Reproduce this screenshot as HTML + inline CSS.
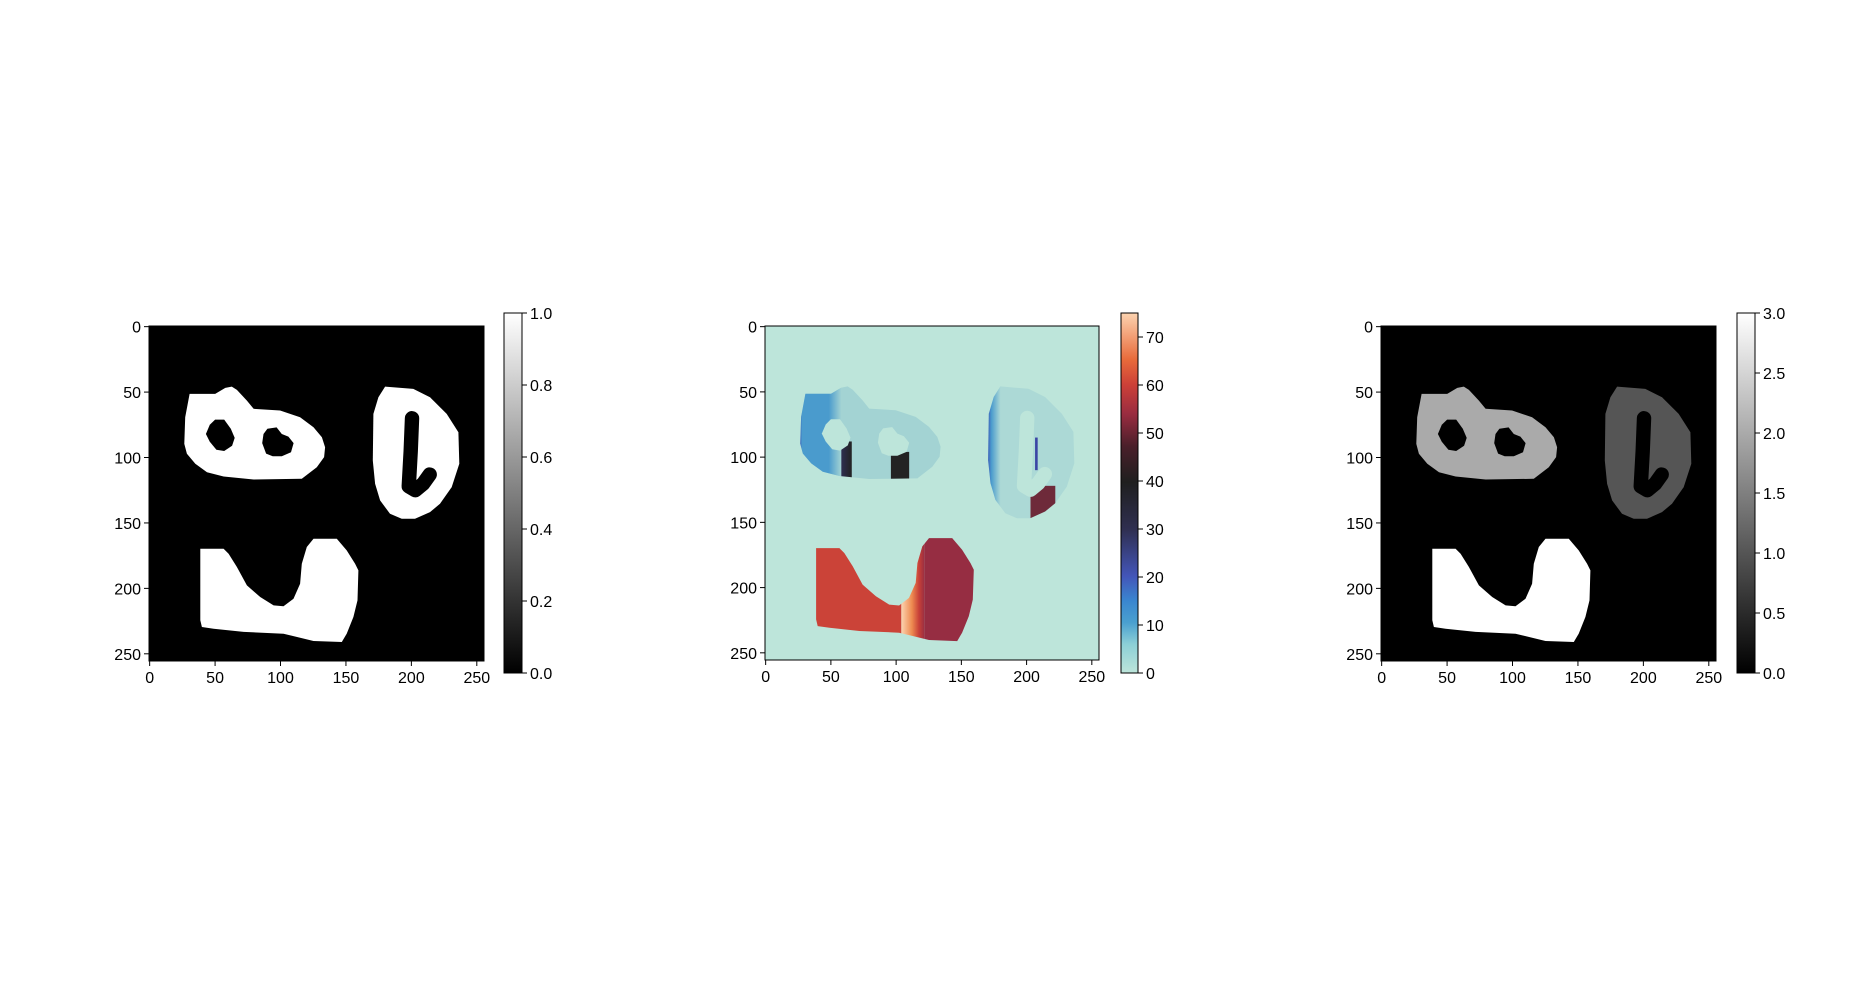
<!DOCTYPE html>
<html><head><meta charset="utf-8"><style>
html,body{margin:0;padding:0;background:#fff;}
svg{display:block;font-family:"Liberation Sans","DejaVu Sans",sans-serif;}
</style></head><body>
<svg id="fig" width="1853" height="986" viewBox="0 0 1853 986" xmlns="http://www.w3.org/2000/svg"></svg>
<script>
// ---- data ----
const axisTicks = [0, 50, 100, 150, 200, 250];
const imageSize = 256;
const cbTicks1 = [0.0, 0.2, 0.4, 0.6, 0.8, 1.0];
const cbMax1 = 1.0;
const cbTicks2 = [0, 10, 20, 30, 40, 50, 60, 70];
const cbMax2 = 75;
const cbTicks3 = [0.0, 0.5, 1.0, 1.5, 2.0, 2.5, 3.0];
const cbMax3 = 3.0;
// region outlines (image coordinates: col,row)
const regionA = [[30.5,51.4],[50.1,51.4],[57.8,46.8],[62.8,45.8],[66.7,48.3],[74.3,56.5],[79.4,62.8],[99.7,64.1],[115,69.2],[125.2,76.8],[131.6,84.5],[134.1,92.1],[133.3,99.7],[127.7,107.4],[116.3,116.3],[79.4,116.8],[56.5,114.5],[43.8,111.2],[34.9,104.8],[28.5,97.2],[26.5,89.6],[27.2,69.2]];
const regionB = [[179.9,45.8],[201.5,47.6],[214.2,53.9],[227,66.7],[235.9,80.7],[236.6,104.8],[230.8,122.6],[221.9,135.4],[214.2,141.7],[202.8,146.8],[192.6,146.8],[183.7,143],[176.1,132.8],[172.3,120.1],[170.5,102.3],[171,66.7],[174.8,53.9]];
const regionC = [[38.7,169.7],[56.5,169.7],[60.3,173.5],[66.7,183.7],[74.3,197.7],[84.5,206.6],[94.7,213],[102.3,213.7],[109.9,207.9],[115,196.4],[116.3,181.2],[120.1,168.4],[125.2,162.1],[143,162.1],[150.6,171],[157,181.2],[159.5,186.3],[158.8,209.2],[155.7,221.9],[150.6,234.6],[146.8,241],[125.2,240.2],[102.3,234.6],[71.8,233.3],[48.9,230.8],[39.9,229.5],[38.7,224.4]];
const holeA1 = [[50,71],[57,71],[62,78],[65,85],[63,91],[57,95],[51,94],[46,88],[43,82],[46,75]];
const holeA2 = [[90,78],[97,77],[101,82],[106,84],[110,89],[108,96],[101,99],[94,99],[89,97],[86,89],[87,82]];
const holeBStroke = [[200.5,70],[199.5,95],[198,122],[203,125],[209,120],[214,113]];
const labelValues = {A: 2, B: 1, C: 3};

const NS = "http://www.w3.org/2000/svg";
const fig = document.getElementById('fig');
function el(tag, attrs, parent){const e=document.createElementNS(NS,tag);for(const k in attrs)e.setAttribute(k,attrs[k]);(parent||fig).appendChild(e);return e;}

const panels = [
  {left:149, top:326, size:335, cbx:504, cbw:18, mode:'mask'},
  {left:765, top:326, size:334, cbx:1121, cbw:17, mode:'dist'},
  {left:1381, top:326, size:335, cbx:1737, cbw:18, mode:'label'}
];
const cbTop=313, cbBot=673;

let defs = el('defs',{});
function grad(id, stops, vertical, x1, x2){
  const g = el('linearGradient', vertical?{id:id,x1:0,y1:1,x2:0,y2:0}:{id:id,x1:x1,y1:0,x2:x2,y2:0,gradientUnits:'userSpaceOnUse'}, defs);
  stops.forEach(s=>el('stop',{offset:s[0],'stop-color':s[1]},g));
}
grad('gray',[[0,'#000'],[1,'#fff']],true);
grad('ice',[[0,'#bde5da'],[0.08,'#8ccfd6'],[0.14,'#4aa0d0'],[0.2,'#3a86d0'],[0.27,'#4355b8'],[0.4,'#2f2f50'],[0.53,'#1f1f1f'],[0.63,'#4a1f2a'],[0.72,'#9a2c40'],[0.8,'#cc4038'],[0.87,'#e86a3a'],[1,'#fcd3b0']],true);

function ptsToPath(pts, sx, sy){return 'M'+pts.map(p=>sx(p[0]).toFixed(1)+','+sy(p[1]).toFixed(1)).join('L')+'Z';}

panels.forEach((P,pi)=>{
  const g = el('g',{});
  
  
  const s = P.size/imageSize;
  const sx = v=>P.left+(v+0.5)*s, sy = v=>P.top+(v+0.5)*s;
  const clipId='clip'+pi;
  const cp = el('clipPath',{id:clipId},defs);
  el('rect',{x:P.left,y:P.top,width:P.size,height:P.size},cp);
  const img = el('g',{'clip-path':'url(#'+clipId+')'},g);
  
  
  const bg = P.mode==='dist' ? '#bde5da' : '#000';
  el('rect',{x:P.left,y:P.top,width:P.size,height:P.size,fill:bg},img);
  const pA=ptsToPath(regionA,sx,sy), pB=ptsToPath(regionB,sx,sy), pC=ptsToPath(regionC,sx,sy);
  const hA1=ptsToPath(holeA1,sx,sy), hA2=ptsToPath(holeA2,sx,sy);
  const strokeD='M'+holeBStroke.map(p=>sx(p[0])+','+sy(p[1])).join('L');
  const holeW = 11*s;
  if(P.mode!=='dist'){
    const col = v=>{const c=Math.round(255*v/cbMax3);return 'rgb('+c+','+c+','+c+')';};
    const fA = P.mode==='mask'?'#fff':col(labelValues.A);
    const fB = P.mode==='mask'?'#fff':col(labelValues.B);
    const fC = P.mode==='mask'?'#fff':col(labelValues.C);
    const a=el('path',{d:pA,fill:fA},img);  
    const b=el('path',{d:pB,fill:fB},img);  
    const c=el('path',{d:pC,fill:fC},img);  
    el('path',{d:hA1,fill:'#000'},img); el('path',{d:hA2,fill:'#000'},img);
    el('path',{d:strokeD,fill:'none',stroke:'#000','stroke-width':holeW,'stroke-linecap':'round','stroke-linejoin':'round'},img);
  } else {
    // region A
    const cA=el('clipPath',{id:'cA'},defs); el('path',{d:pA},cA);
    const gA=el('g',{'clip-path':'url(#cA)'},img);
    
    
    grad('gA',[[0,'#3b55b5'],[0.06,'#4a9bcd'],[0.7,'#4a9bcd'],[1,'#a3d3d3']],false,sx(26),sx(58));
    el('rect',{x:sx(20),y:sy(40),width:sx(140)-sx(20),height:sy(120)-sy(40),fill:'#a3d3d3'},gA);
    el('rect',{x:sx(20),y:sy(40),width:sx(58)-sx(20),height:sy(120)-sy(40),fill:'url(#gA)'},gA);
    grad('gS1',[[0,'#2e2e50'],[1,'#222']],false,sx(58),sx(66));
    el('rect',{x:sx(58),y:sy(88),width:sx(66)-sx(58),height:sy(118)-sy(88),fill:'url(#gS1)'},gA);
    el('rect',{x:sx(96),y:sy(96),width:sx(110)-sx(96),height:sy(118)-sy(96),fill:'#232323'},gA);
    el('path',{d:hA1,fill:'#bde5da'},gA); el('path',{d:hA2,fill:'#bde5da'},gA);
    // region B
    const cB=el('clipPath',{id:'cB'},defs); el('path',{d:pB},cB);
    const gB=el('g',{'clip-path':'url(#cB)'},img);
    
    
    grad('gB',[[0,'#3b55b5'],[0.3,'#4a9bcd'],[1,'#acd9d6']],false,sx(170),sx(180));
    el('rect',{x:sx(165),y:sy(40),width:sx(240)-sx(165),height:sy(150)-sy(40),fill:'#acd9d6'},gB);
    el('rect',{x:sx(165),y:sy(40),width:sx(180)-sx(165),height:sy(150)-sy(40),fill:'url(#gB)'},gB);
    el('rect',{x:sx(203),y:sy(122),width:sx(222)-sx(203),height:sy(150)-sy(122),fill:'#6e2a3a'},gB);
    el('path',{d:strokeD,fill:'none',stroke:'#bde5da','stroke-width':holeW,'stroke-linecap':'round','stroke-linejoin':'round'},gB);
    el('rect',{x:sx(206.5),y:sy(85),width:2*s,height:25*s,fill:'#3b45a5'},gB);
    // region C
    const cC=el('clipPath',{id:'cC'},defs); el('path',{d:pC},cC);
    const gC=el('g',{'clip-path':'url(#cC)'},img);
    
    
    grad('gC',[[0,'#fcd3b0'],[0.45,'#ee8a50'],[0.75,'#c84038'],[1,'#962d42']],false,sx(104),sx(122));
    el('rect',{x:sx(30),y:sy(155),width:sx(104)-sx(30),height:sy(245)-sy(155),fill:'#cb4338'},gC);
    el('rect',{x:sx(104),y:sy(155),width:sx(122)-sx(104),height:sy(245)-sy(155),fill:'url(#gC)'},gC);
    el('rect',{x:sx(122),y:sy(155),width:sx(165)-sx(122),height:sy(245)-sy(155),fill:'#962d42'},gC);
  }
  // axes frame
  const fr = el('rect',{x:P.left,y:P.top,width:P.size,height:P.size,fill:'none',stroke:'#000','stroke-width':1},g);
   
  axisTicks.forEach(t=>{
    const x=sx(t), y=sy(t);
    el('line',{x1:x,y1:P.top+P.size,x2:x,y2:P.top+P.size+5,stroke:'#000'},g);
    const tx=el('text',{x:x,y:P.top+P.size+22,'text-anchor':'middle','font-size':16},g); tx.textContent=t;
     
    el('line',{x1:P.left-5,y1:y,x2:P.left,y2:y,stroke:'#000'},g);
    const ty=el('text',{x:P.left-8,y:y+6,'text-anchor':'end','font-size':16},g); ty.textContent=t;
     
  });
  // colorbar
  const cb = el('g',{},g);
  
  
  const gid = P.mode==='dist'?'ice':'gray';
  el('rect',{x:P.cbx,y:cbTop,width:P.cbw,height:cbBot-cbTop,fill:'url(#'+gid+')',stroke:'#000','stroke-width':1},cb);
  const ticks = pi===0?cbTicks1:(pi===1?cbTicks2:cbTicks3);
  const mx = pi===0?cbMax1:(pi===1?cbMax2:cbMax3);
  ticks.forEach(t=>{
    const y = cbBot-(t/mx)*(cbBot-cbTop);
    el('line',{x1:P.cbx+P.cbw,y1:y,x2:P.cbx+P.cbw+5,y2:y,stroke:'#000'},cb);
    const tt=el('text',{x:P.cbx+P.cbw+8,y:y+6,'font-size':16},cb);
    tt.textContent = pi===1?String(t):t.toFixed(1);
     
  });
});
</script>
</body></html>
